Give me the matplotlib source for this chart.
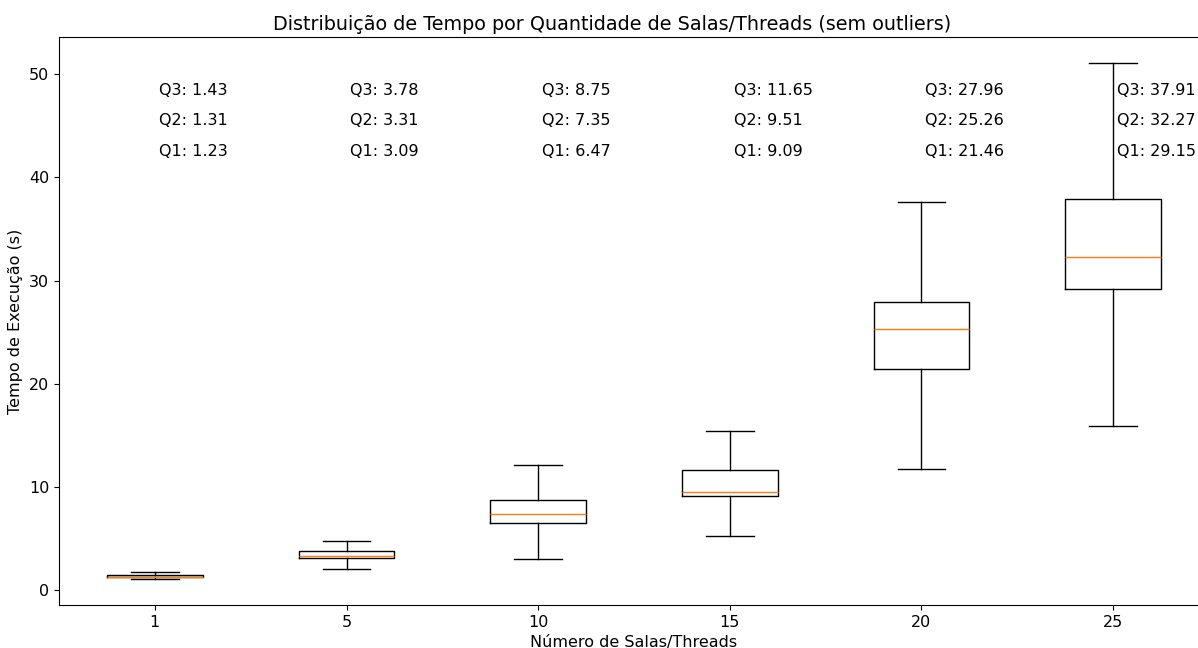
import matplotlib.pyplot as plt

# dados
salas = ['1', '5', '10', '15', '20', '25']
q1 = [1.23, 3.09, 6.47, 9.09, 21.46, 29.15]
q2 = [1.31, 3.31, 7.35, 9.51, 25.26, 32.27]
q3 = [1.43, 3.78, 8.75, 11.65, 27.96, 37.91]
whis_baixo = [1.06, 2.03, 3.03, 5.25, 11.76, 15.9]
whis_alto = [1.71, 4.73, 12.17, 15.46, 37.65, 51.1]

stats = []
for i in range(len(salas)):
    stats.append({'label': salas[i], 'q1': q1[i], 'med': q2[i], 'q3': q3[i],
                  'whislo': whis_baixo[i], 'whishi': whis_alto[i], 'fliers': []})

fig = plt.figure(figsize=(11.98, 6.48), dpi=100)
ax = fig.add_axes([59/1198, 43/648, 1150/1198, 568/648])

ax.bxp(stats, showfliers=False)
ax.spines['right'].set_visible(False)

# anotacoes dos quartis
for i in range(len(salas)):
    pos = i + 1.02
    ax.text(pos, 48.45, f'Q3: {q3[i]:.2f}', ha='left', va='center', fontsize=11.5)
    ax.text(pos, 45.55, f'Q2: {q2[i]:.2f}', ha='left', va='center', fontsize=11.5)
    ax.text(pos, 42.5, f'Q1: {q1[i]:.2f}', ha='left', va='center', fontsize=11.5)

ax.set_xlabel('Número de Salas/Threads', fontsize=11.5)
ax.set_ylabel('Tempo de Execução (s)', fontsize=11.5)
ax.tick_params(labelsize=11.5)
fig.text(612/1198, 1 - 30/648, 'Distribuição de Tempo por Quantidade de Salas/Threads (sem outliers)',
         ha='center', va='baseline', fontsize=13.8)

fig.savefig('out.png', dpi=100)
